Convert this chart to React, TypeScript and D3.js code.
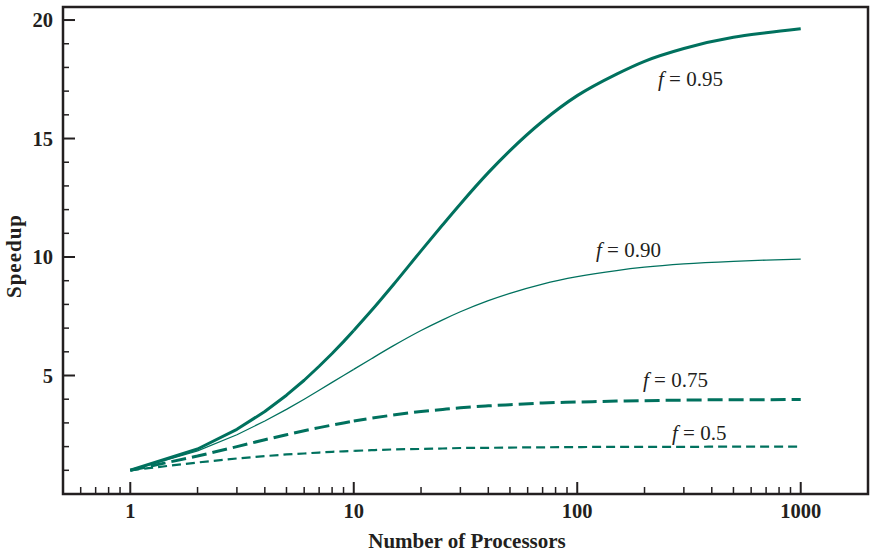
import React from "react";
import * as d3 from "d3";

const procs = [1, 2, 3, 4, 5, 6, 7, 8, 9, 10, 12, 15, 20, 25, 30, 40, 50, 70, 100, 150, 200, 300, 500, 700, 1000];
const speed95 = [1, 1.9, 2.73, 3.48, 4.17, 4.8, 5.39, 5.93, 6.43, 6.9, 7.74, 8.82, 10.26, 11.36, 12.24, 13.56, 14.49, 15.73, 16.81, 17.72, 18.26, 18.8, 19.27, 19.46, 19.63];
const speed90 = [1, 1.82, 2.5, 3.08, 3.57, 4.0, 4.38, 4.71, 5.0, 5.26, 5.71, 6.25, 6.9, 7.35, 7.69, 8.16, 8.47, 8.86, 9.17, 9.43, 9.57, 9.71, 9.82, 9.87, 9.91];
const speed75 = [1, 1.6, 2.0, 2.29, 2.5, 2.67, 2.8, 2.91, 3.0, 3.08, 3.2, 3.33, 3.48, 3.57, 3.64, 3.72, 3.77, 3.84, 3.88, 3.92, 3.94, 3.96, 3.98, 3.98, 3.99];
const speed50 = [1, 1.33, 1.5, 1.6, 1.67, 1.71, 1.75, 1.78, 1.8, 1.82, 1.85, 1.88, 1.9, 1.92, 1.94, 1.95, 1.96, 1.97, 1.98, 1.99, 1.99, 1.99, 2.0, 2.0, 2.0];

const xMajorTicks = [1, 10, 100, 1000];
const yMajorTicks = [5, 10, 15, 20];
const seriesLabels = ["0.95", "0.90", "0.75", "0.5"];

const COLOR = "#00715e";
const INK = "#231f20";

export default function App() {
  const left = 63, right = 868, top = 7, bottom = 494;
  const x = d3.scaleLog().domain([0.5, 2000]).range([left, right]);
  const y = d3.scaleLinear().domain([0, 20.55]).range([bottom, top]);

  const linLine = d3
    .line<[number, number]>()
    .x((d) => x(d[0]))
    .y((d) => y(d[1]))
    .curve(d3.curveLinear);
  const smoothLine = d3
    .line<[number, number]>()
    .x((d) => x(d[0]))
    .y((d) => y(d[1]))
    .curve(d3.curveMonotoneX);

  const series = [
    { s: speed95, w: 3, dash: undefined as string | undefined, label: seriesLabels[0], lx: 658, ly: 86 },
    { s: speed90, w: 1.3, dash: undefined, label: seriesLabels[1], lx: 596, ly: 257 },
    { s: speed75, w: 3, dash: "15 6", label: seriesLabels[2], lx: 643, ly: 387 },
    { s: speed50, w: 2.2, dash: "9 5", label: seriesLabels[3], lx: 672, ly: 440 },
  ];

  const xMinor: number[] = [];
  [0.1, 1, 10, 100, 1000].forEach((dec) => {
    for (let k = 2; k <= 9; k++) {
      const v = dec * k;
      if (v >= 0.5 && v <= 2000 && !xMajorTicks.includes(v)) xMinor.push(v);
    }
  });
  const yMinor: number[] = [];
  for (let v = 1; v <= 20; v++) if (!yMajorTicks.includes(v)) yMinor.push(v);

  const serif = "'Liberation Serif', 'Times New Roman', serif";

  return (
    <svg
      width={871}
      height={552}
      style={{ position: "absolute", left: 0, top: 0, background: "#fff" }}
      fontFamily={serif}
    >
      {series.map((sr, i) => {
        const pts = procs.map((p, j) => [p, sr.s[j]] as [number, number]);
        const lowPts = pts.filter((d) => d[0] <= 10);
        const highPts = pts.filter((d) => d[0] >= 10);
        let len = 0;
        for (let k = 1; k < lowPts.length; k++) {
          const dx = x(lowPts[k][0]) - x(lowPts[k - 1][0]);
          const dy = y(lowPts[k][1]) - y(lowPts[k - 1][1]);
          len += Math.sqrt(dx * dx + dy * dy);
        }
        return (
          <g key={i}>
            <path
              d={linLine(lowPts) || ""}
              fill="none"
              stroke={COLOR}
              strokeWidth={sr.w}
              strokeDasharray={sr.dash}
              strokeLinejoin="round"
            />
            <path
              d={smoothLine(highPts) || ""}
              fill="none"
              stroke={COLOR}
              strokeWidth={sr.w}
              strokeDasharray={sr.dash}
              strokeDashoffset={sr.dash ? -len : undefined}
              strokeLinejoin="round"
            />
          </g>
        );
      })}
      {series.map((sr, i) => (
        <text key={"l" + i} x={sr.lx} y={sr.ly} fontSize={21} fill={INK}>
          <tspan fontStyle="italic">f</tspan>
          <tspan> = {sr.label}</tspan>
        </text>
      ))}
      <rect x={left} y={top} width={right - left} height={bottom - top} fill="none" stroke={INK} strokeWidth={2.5} />
      {xMajorTicks.map((v) => (
        <g key={"xm" + v}>
          <line x1={x(v)} x2={x(v)} y1={bottom} y2={bottom - 12} stroke={INK} strokeWidth={2} />
          <text x={x(v)} y={518} textAnchor="middle" fontSize={20.5} fontWeight="bold" fill={INK}>
            {v}
          </text>
        </g>
      ))}
      {xMinor.map((v) => (
        <line key={"xn" + v} x1={x(v)} x2={x(v)} y1={bottom} y2={bottom - 7} stroke={INK} strokeWidth={1.5} />
      ))}
      {yMajorTicks.map((v) => (
        <g key={"ym" + v}>
          <line x1={left} x2={left + 12} y1={y(v)} y2={y(v)} stroke={INK} strokeWidth={2} />
          <text x={53} y={y(v) + 7} textAnchor="end" fontSize={20.5} fontWeight="bold" fill={INK}>
            {v}
          </text>
        </g>
      ))}
      {yMinor.map((v) => (
        <line key={"yn" + v} x1={left} x2={left + 6} y1={y(v)} y2={y(v)} stroke={INK} strokeWidth={1.5} />
      ))}
      <text x={467} y={548} textAnchor="middle" fontSize={21} fontWeight="bold" fill={INK}>
        Number of Processors
      </text>
      <text
        transform={`translate(21, 256) rotate(-90)`}
        textAnchor="middle"
        fontSize={21}
        fontWeight="bold"
        letterSpacing={1}
        fill={INK}
      >
        Speedup
      </text>
    </svg>
  );
}
